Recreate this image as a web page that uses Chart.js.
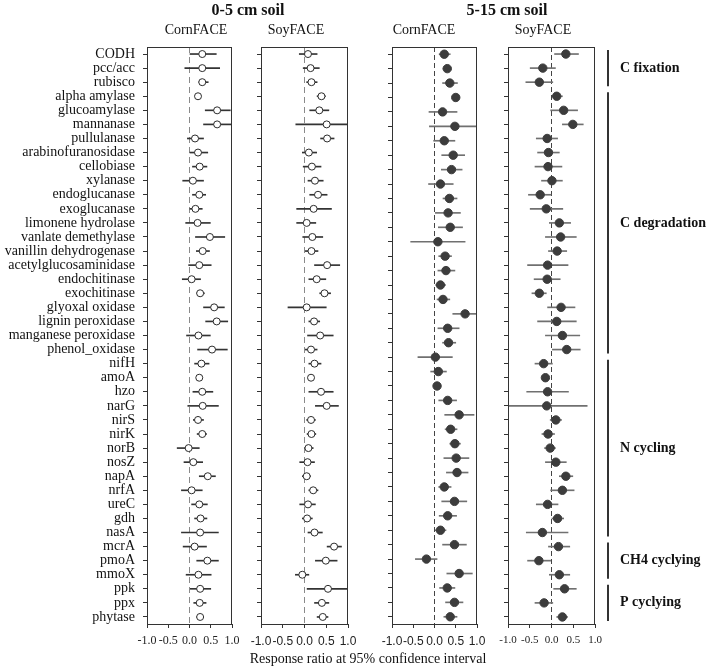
<!DOCTYPE html>
<html>
<head>
<meta charset="utf-8">
<script src="https://cdn.jsdelivr.net/npm/chart.js@4.4.1/dist/chart.umd.min.js"></script>
<style>
  body { margin: 0; background: #fff; }
  #wrap { position: relative; width: 709px; height: 672px; font-family: "Liberation Serif", serif; color: #111; }
  #wrap canvas { position: absolute; left: 0; top: 0; }
  .t { position: absolute; white-space: nowrap; transform: translateX(-50%); line-height: 1; }
  .h { font-size: 16px; font-weight: bold; top: 2px; }
  .s { font-size: 14px; top: 23px; }
</style>
</head>
<body>
<div id="wrap">
  <canvas id="c1" width="709" height="672"></canvas>
  <canvas id="c2" width="709" height="672"></canvas>
  <canvas id="c3" width="709" height="672"></canvas>
  <canvas id="c4" width="709" height="672"></canvas>
  <div class="t h" style="left:248px">0-5 cm soil</div>
  <div class="t h" style="left:507px">5-15 cm soil</div>
  <div class="t s" style="left:196px">CornFACE</div>
  <div class="t s" style="left:296px">SoyFACE</div>
  <div class="t s" style="left:424px">CornFACE</div>
  <div class="t s" style="left:543px">SoyFACE</div>
  <div class="t" style="left:368px;top:652px;font-size:14px">Response ratio at 95% confidence interval</div>
</div>
<script>
const genes = ['CODH', 'pcc/acc', 'rubisco', 'alpha amylase', 'glucoamylase', 'mannanase', 'pullulanase',
  'arabinofuranosidase', 'cellobiase', 'xylanase', 'endoglucanase', 'exoglucanase', 'limonene hydrolase',
  'vanlate demethylase', 'vanillin dehydrogenase', 'acetylglucosaminidase', 'endochitinase', 'exochitinase',
  'glyoxal oxidase', 'lignin peroxidase', 'manganese peroxidase', 'phenol_oxidase', 'nifH', 'amoA', 'hzo',
  'narG', 'nirS', 'nirK', 'norB', 'nosZ', 'napA', 'nrfA', 'ureC', 'gdh', 'nasA', 'mcrA', 'pmoA', 'mmoX',
  'ppk', 'ppx', 'phytase'];
// the CornFACE 5-15 cm panel only has 40 rows
const corn515Genes = genes.filter(g => g !== 'hzo');

const groupNames = ['C fixation', 'C degradation', 'N cycling', 'CH4 cyclying', 'P cyclying'];
const groupFirst = ['CODH', 'alpha amylase', 'nifH', 'mcrA', 'ppk'];
const groupLast = ['rubisco', 'phenol_oxidase', 'nasA', 'mmoX', 'phytase'];

const xTicks = [-1, -0.5, 0, 0.5, 1];

// 0-5 cm, CornFACE
const corn05Mean = [0.30, 0.30, 0.30, 0.20, 0.65, 0.65, 0.13, 0.20, 0.24, 0.08,
  0.23, 0.14, 0.19, 0.48, 0.31, 0.23, 0.05, 0.25, 0.58, 0.64,
  0.21, 0.53, 0.28, 0.23, 0.30, 0.31, 0.20, 0.30, -0.02, 0.09,
  0.43, 0.05, 0.23, 0.26, 0.25, 0.12, 0.42, 0.21, 0.25, 0.24, 0.25];
const corn05Lo = [0.00, -0.11, 0.22, 0.15, 0.37, 0.33, -0.05, 0.00, 0.07, -0.16,
  0.07, 0.01, -0.09, 0.14, 0.16, -0.02, -0.17, 0.17, 0.33, 0.38,
  -0.07, 0.19, 0.12, 0.18, 0.08, -0.04, 0.09, 0.18, -0.29, -0.13,
  0.23, -0.19, 0.05, 0.12, -0.19, -0.15, 0.17, -0.08, 0.02, 0.10, 0.17];
const corn05Hi = [0.63, 0.71, 0.44, 0.25, 0.96, 0.97, 0.33, 0.43, 0.41, 0.33,
  0.38, 0.30, 0.49, 0.83, 0.47, 0.51, 0.26, 0.35, 0.82, 0.90,
  0.49, 0.89, 0.46, 0.28, 0.55, 0.68, 0.33, 0.40, 0.23, 0.31,
  0.61, 0.30, 0.42, 0.41, 0.68, 0.40, 0.68, 0.51, 0.50, 0.39, 0.33];

// 0-5 cm, SoyFACE
const soy05Mean = [0.08, 0.14, 0.16, 0.39, 0.34, 0.51, 0.52, 0.10, 0.17, 0.24,
  0.31, 0.21, 0.05, 0.18, 0.16, 0.52, 0.28, 0.46, 0.05, 0.22,
  0.36, 0.15, 0.23, 0.15, 0.38, 0.51, 0.15, 0.16, 0.09, 0.07,
  0.05, 0.20, 0.08, 0.06, 0.23, 0.68, 0.49, -0.05, 0.54, 0.40, 0.42];
const soy05Lo = [-0.12, -0.03, 0.05, 0.29, 0.12, -0.20, 0.37, -0.05, -0.03, 0.08,
  0.12, -0.18, -0.18, -0.04, 0.02, 0.23, 0.10, 0.35, -0.38, 0.10,
  0.07, 0.02, 0.10, 0.10, 0.10, 0.25, 0.05, 0.06, 0.00, -0.11,
  -0.05, 0.10, -0.11, -0.05, 0.08, 0.52, 0.25, -0.21, 0.06, 0.23, 0.29];
const soy05Hi = [0.29, 0.34, 0.29, 0.48, 0.56, 1.10, 0.68, 0.28, 0.38, 0.43,
  0.52, 0.62, 0.26, 0.42, 0.31, 0.81, 0.49, 0.60, 0.50, 0.35,
  0.66, 0.29, 0.38, 0.20, 0.66, 0.78, 0.25, 0.26, 0.20, 0.23,
  0.14, 0.31, 0.25, 0.18, 0.41, 0.85, 0.75, 0.10, 1.10, 0.56, 0.54];

// 5-15 cm, CornFACE
const corn515Mean = [0.23, 0.30, 0.36, 0.50, 0.19, 0.48, 0.23, 0.44, 0.40, 0.14,
  0.35, 0.32, 0.37, 0.08, 0.25, 0.27, 0.14, 0.20, 0.72, 0.31,
  0.33, 0.02, 0.09, 0.06, 0.31, 0.58, 0.38, 0.48, 0.51, 0.53,
  0.23, 0.47, 0.31, 0.14, 0.47, -0.19, 0.58, 0.30, 0.47, 0.37];
const corn515Lo = [0.11, 0.20, 0.19, 0.42, -0.13, -0.12, -0.02, 0.17, 0.16, -0.14,
  0.20, 0.02, 0.09, -0.56, 0.10, 0.08, 0.03, 0.06, 0.43, 0.08,
  0.19, -0.39, -0.09, 0.01, 0.10, 0.24, 0.25, 0.36, 0.22, 0.28,
  0.10, 0.17, 0.11, 0.02, 0.19, -0.45, 0.29, 0.12, 0.26, 0.22];
const corn515Hi = [0.37, 0.39, 0.54, 0.58, 0.53, 1.10, 0.48, 0.71, 0.65, 0.44,
  0.53, 0.61, 0.66, 0.72, 0.40, 0.48, 0.26, 0.36, 1.02, 0.58,
  0.50, 0.42, 0.28, 0.11, 0.52, 0.93, 0.53, 0.61, 0.81, 0.79,
  0.39, 0.76, 0.52, 0.27, 0.75, 0.06, 0.89, 0.48, 0.67, 0.53];

// 5-15 cm, SoyFACE
const soy515Mean = [0.33, -0.20, -0.28, 0.12, 0.28, 0.49, -0.10, -0.07, -0.08, 0.01,
  -0.26, -0.12, 0.18, 0.21, 0.13, -0.09, -0.10, -0.28, 0.22, 0.12,
  0.25, 0.35, -0.18, -0.14, -0.09, -0.11, 0.10, -0.08, -0.03, 0.10,
  0.33, 0.25, -0.09, 0.14, -0.21, 0.16, -0.29, 0.18, 0.30, -0.17, 0.25];
const soy515Lo = [0.07, -0.49, -0.59, 0.02, -0.02, 0.25, -0.35, -0.32, -0.38, -0.23,
  -0.53, -0.49, -0.05, -0.14, -0.07, -0.55, -0.40, -0.45, -0.09, -0.32,
  -0.14, 0.02, -0.38, -0.19, -0.57, -1.10, -0.03, -0.22, -0.16, -0.14,
  0.18, -0.02, -0.35, 0.00, -0.58, -0.07, -0.55, -0.05, 0.05, -0.38, 0.12];
const soy515Hi = [0.62, 0.09, 0.03, 0.25, 0.60, 0.73, 0.14, 0.18, 0.24, 0.25,
  0.00, 0.26, 0.44, 0.57, 0.35, 0.38, 0.20, -0.12, 0.54, 0.57,
  0.65, 0.66, 0.02, -0.09, 0.39, 0.82, 0.23, 0.07, 0.09, 0.34,
  0.49, 0.52, 0.15, 0.28, 0.38, 0.42, -0.02, 0.42, 0.57, 0.03, 0.37];

const W = 709;

const framePlugin = {
  id: 'frame',
  afterDatasetsDraw(chart) {
    const { ctx, chartArea: a } = chart;
    ctx.save();
    ctx.strokeStyle = '#333';
    ctx.lineWidth = 1;
    ctx.strokeRect(a.left + 0.5, a.top + 0.5, a.right - a.left - 1, a.bottom - a.top);
    ctx.restore();
  }
};

const groupPlugin = {
  id: 'groups',
  afterDraw(chart) {
    const { ctx, chartArea } = chart;
    const y = chart.scales.y;
    const lx = chartArea.right + 13;
    ctx.save();
    ctx.strokeStyle = '#333';
    ctx.lineWidth = 2;
    ctx.fillStyle = '#111';
    ctx.font = 'bold 14px "Liberation Serif"';
    ctx.textBaseline = 'middle';
    groupNames.forEach((name, k) => {
      const y0 = y.getPixelForValue(genes.indexOf(groupFirst[k])) - 4;
      const y1 = y.getPixelForValue(genes.indexOf(groupLast[k])) + 4;
      ctx.beginPath();
      ctx.moveTo(lx, y0);
      ctx.lineTo(lx, y1);
      ctx.stroke();
      ctx.fillText(name, lx + 12, (y0 + y1) / 2);
    });
    ctx.restore();
  }
};

function makePanel(id, p) {
  return new Chart(document.getElementById(id), {
    type: 'bar',
    data: {
      labels: p.labels,
      datasets: [
        {
          type: 'scatter',
          data: p.labels.map((g, i) => ({ x: p.mean[i], y: g })),
          order: 0,
          pointRadius: p.radius,
          pointBackgroundColor: p.fill,
          pointBorderColor: p.edge,
          pointBorderWidth: 1
        },
        {
          type: 'bar',
          indexAxis: 'y',
          data: p.labels.map((g, i) => [p.lo[i], p.hi[i]]),
          backgroundColor: p.whisker,
          barThickness: 1,
          order: 1
        }
      ]
    },
    options: {
      responsive: false,
      animation: false,
      devicePixelRatio: 1,
      events: [],
      layout: { padding: { top: 47, bottom: 0, left: p.left - p.yw, right: W - p.right } },
      plugins: { legend: { display: false }, tooltip: { enabled: false } },
      scales: {
        x: {
          type: 'linear',
          offset: false,
          min: -1,
          max: 1,
          afterBuildTicks: s => { s.ticks = xTicks.map(v => ({ value: v })); },
          afterFit: s => { s.height = 48; },
          grid: {
            offset: false,
            color: c => (c.tick && c.tick.value === 0 ? p.zero : 'rgba(0,0,0,0)'),
            tickColor: '#333',
            tickLength: 4,
            lineWidth: 1
          },
          border: { display: false, dash: p.dash },
          ticks: {
            autoSkip: false,
            maxRotation: 0,
            padding: 6,
            color: '#222',
            font: p.xFont,
            callback: v => v.toFixed(1)
          }
        },
        y: {
          type: 'category',
          offset: true,
          afterFit: s => { s.width = p.yw; },
          grid: { drawOnChartArea: false, offset: false, tickLength: 4, tickColor: '#333', color: 'rgba(0,0,0,0)' },
          border: { display: false },
          ticks: {
            display: p.showLabels,
            autoSkip: false,
            padding: 8,
            color: '#111',
            font: { family: 'Liberation Serif', size: 14 }
          }
        }
      }
    },
    plugins: p.groups ? [framePlugin, groupPlugin] : [framePlugin]
  });
}

const openDot = { radius: 3.5, fill: '#fff', edge: '#2b2b2b', whisker: '#333', zero: '#8a8a8a', dash: [6, 4] };
const fullDot = { radius: 4.2, fill: '#3c3c3c', edge: '#3c3c3c', whisker: '#707070', zero: '#444', dash: [5, 3] };

makePanel('c1', Object.assign({}, openDot, {
  labels: genes, mean: corn05Mean, lo: corn05Lo, hi: corn05Hi,
  left: 147, right: 232, yw: 147, showLabels: true,
  xFont: { family: 'Liberation Serif', size: 12 }
}));
makePanel('c2', Object.assign({}, openDot, {
  labels: genes, mean: soy05Mean, lo: soy05Lo, hi: soy05Hi,
  left: 261, right: 348, yw: 10, showLabels: false,
  xFont: { family: 'Liberation Sans', size: 12 }
}));
makePanel('c3', Object.assign({}, fullDot, {
  labels: corn515Genes, mean: corn515Mean, lo: corn515Lo, hi: corn515Hi,
  left: 392, right: 477, yw: 10, showLabels: false,
  xFont: { family: 'Liberation Sans', size: 12 }
}));
makePanel('c4', Object.assign({}, fullDot, {
  labels: genes, mean: soy515Mean, lo: soy515Lo, hi: soy515Hi,
  left: 508, right: 595, yw: 10, showLabels: false, groups: true,
  xFont: { family: 'Liberation Serif', size: 11 }
}));
</script>
</body>
</html>
